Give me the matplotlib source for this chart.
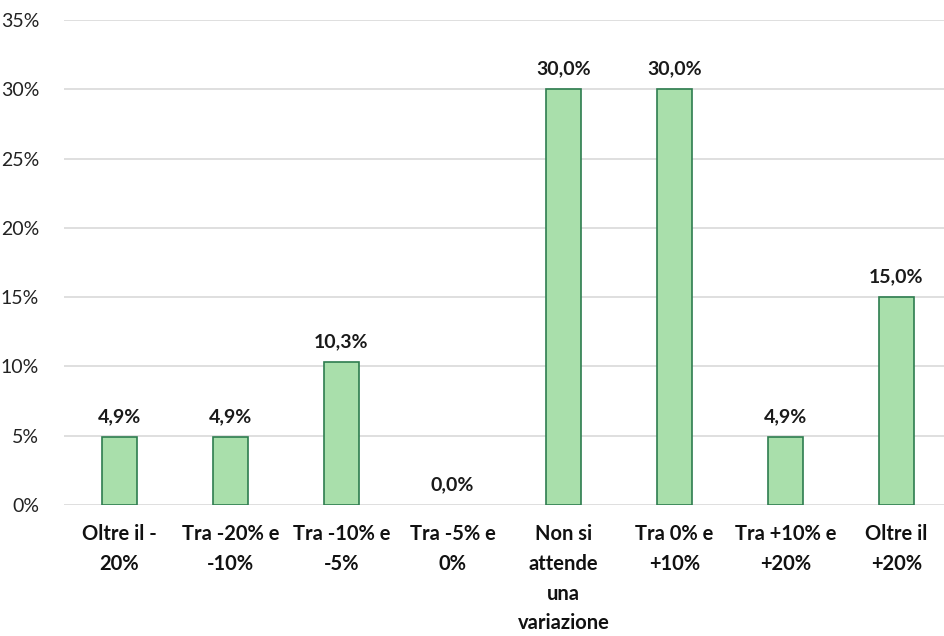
import matplotlib.pyplot as plt
import numpy as np

plt.rcParams['font.family'] = ['Lato', 'DejaVu Sans']

categories = ["Oltre il -\n20%", "Tra -20% e\n-10%", "Tra -10% e\n-5%", "Tra -5% e\n0%",
              "Non si\nattende\nuna\nvariazione", "Tra 0% e\n+10%", "Tra +10% e\n+20%",
              "Oltre il\n+20%"]
values = [4.9, 4.9, 10.3, 0.0, 30.0, 30.0, 4.9, 15.0]
yticks = [0, 5, 10, 15, 20, 25, 30, 35]

fig = plt.figure(figsize=(9.44, 6.36), dpi=100)
ax = fig.add_axes([64 / 944, 1 - 505 / 636, 888 / 944, 485 / 636])

x = np.arange(len(categories))
lw = [1.2 if v > 0 else 0 for v in values]
ax.bar(x, values, width=0.32, color='#A9DFAB', edgecolor='#2E7D4F', linewidth=lw, zorder=3)

for xi, v in zip(x, values):
    ax.text(xi, v + 0.85, f"{v:.1f}%".replace('.', ','), ha='center', va='bottom',
            fontsize=14, fontweight='bold', color='#1a1a1a')

ax.set_xlim(-0.5, len(categories) - 0.5)
ax.set_ylim(0, 35)
ax.set_yticks(yticks)
ax.set_yticklabels([f"{t}%" for t in yticks], fontsize=14, color='#222222')
ax.set_xticks(x)
ax.set_xticklabels(categories, fontsize=14.5, fontweight='bold', color='#111111', linespacing=1.6, va='top')
ax.tick_params(axis='both', length=0)
ax.tick_params(axis='x', pad=14)
ax.tick_params(axis='y', pad=18)
ax.grid(axis='y', color='#D9D9D9', linewidth=1.2, zorder=0)
for s in ax.spines.values():
    s.set_visible(False)

fig.savefig('out.png', dpi=100)
